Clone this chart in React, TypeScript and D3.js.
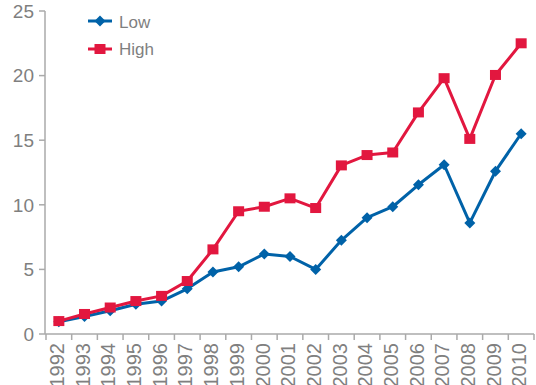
import React from "react";
import * as d3 from "d3";

const years = ["1992","1993","1994","1995","1996","1997","1998","1999","2000","2001","2002","2003","2004","2005","2006","2007","2008","2009","2010"];
const lowValues = [0.95,1.35,1.8,2.3,2.55,3.5,4.8,5.2,6.2,6.0,5.0,7.25,9.0,9.85,11.55,13.1,8.6,12.6,15.5];
const highValues = [1.0,1.55,2.05,2.55,2.95,4.1,6.55,9.5,9.85,10.5,9.75,13.05,13.85,14.05,17.15,19.8,15.1,20.05,22.5];
const yTicks = [0,5,10,15,20,25];
const seriesNames = ["Low","High"];

const BLUE = "#0062a8";
const RED = "#e2173f";
const AXIS = "#aaaaaa";
const TEXT = "#7f7f7f";
const FONT = "Arial, 'Liberation Sans', Helvetica, sans-serif";

export default function App() {
  const x = d3.scaleBand<string>().domain(years).range([46, 534]).padding(0);
  const y = d3.scaleLinear().domain([0, 25]).range([334, 11]);
  const cx = (d: string) => (x(d) as number) + x.bandwidth() / 2;

  const line = d3.line<number>()
    .x((_, i) => cx(years[i]))
    .y((v) => y(v));

  const diamond = (px: number, py: number, r: number) =>
    `M${px},${py - r}L${px + r},${py}L${px},${py + r}L${px - r},${py}Z`;

  const boundaries = years.map((d) => x(d) as number).concat([534]);

  return (
    <svg width={536} height={385} style={{ position: "absolute", left: 0, top: 0, background: "#fff" }} fontFamily={FONT}>
      {/* y axis */}
      <line x1={45} x2={45} y1={y(25)} y2={y(0)} stroke={AXIS} strokeWidth={1.5} />
      {yTicks.map((t) => (
        <g key={t}>
          <line x1={39} x2={45} y1={y(t)} y2={y(t)} stroke={AXIS} strokeWidth={1.5} />
          <text x={34} y={y(t)} dy="0.36em" textAnchor="end" fontSize={19} fill={TEXT}>{t}</text>
        </g>
      ))}
      {/* x axis */}
      <line x1={45} x2={534} y1={y(0)} y2={y(0)} stroke={AXIS} strokeWidth={1.5} />
      {boundaries.map((bx, i) => (
        <line key={i} x1={bx} x2={bx} y1={y(0)} y2={y(0) + 6} stroke={AXIS} strokeWidth={1.5} />
      ))}
      {years.map((d) => (
        <text key={d} transform={`translate(${cx(d) - 2},${343}) rotate(-90)`} textAnchor="end" dy="0.36em" fontSize={20} fill={TEXT}>{d}</text>
      ))}
      {/* series */}
      <path d={line(lowValues) || ""} fill="none" stroke={BLUE} strokeWidth={3} strokeLinejoin="round" />
      {lowValues.map((v, i) => (
        <path key={i} d={diamond(cx(years[i]), y(v), 5.5)} fill={BLUE} />
      ))}
      <path d={line(highValues) || ""} fill="none" stroke={RED} strokeWidth={3} strokeLinejoin="round" />
      {highValues.map((v, i) => (
        <rect key={i} x={cx(years[i]) - 5.5} y={y(v) - 5} width={11} height={10} fill={RED} />
      ))}
      {/* legend */}
      <g>
        <line x1={88} x2={112} y1={21} y2={21} stroke={BLUE} strokeWidth={3} />
        <path d={diamond(100, 21, 5.5)} fill={BLUE} />
        <text x={119} y={28} fontSize={17} fill={TEXT}>{seriesNames[0]}</text>
        <line x1={88} x2={112} y1={49} y2={49} stroke={RED} strokeWidth={3} />
        <rect x={94.5} y={44} width={11} height={10} fill={RED} />
        <text x={119} y={55} fontSize={17} fill={TEXT}>{seriesNames[1]}</text>
      </g>
    </svg>
  );
}
